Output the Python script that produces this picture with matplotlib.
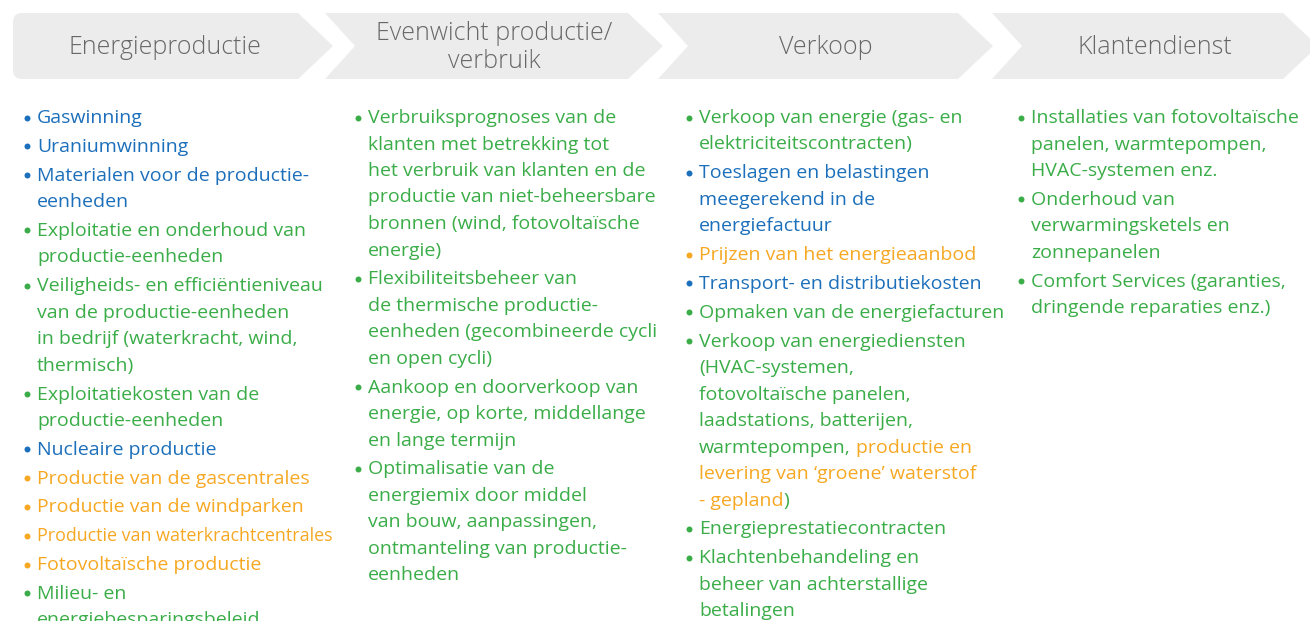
import matplotlib.pyplot as plt
from matplotlib.path import Path
from matplotlib.patches import PathPatch

BLUE = '#1c6fba'
GREEN = '#3aad48'
ORANGE = '#f7a823'
colors = {'b': BLUE, 'g': GREEN, 'o': ORANGE}

headers = ['Energieproductie', 'Evenwicht productie/\nverbruik', 'Verkoop', 'Klantendienst']

# each item: (bullet colour, lines); a line is a string or a list of (text, colour) pieces
col1 = [
    ('b', ['Gaswinning']),
    ('b', ['Uraniumwinning']),
    ('b', ['Materialen voor de productie-', 'eenheden']),
    ('g', ['Exploitatie en onderhoud van', 'productie-eenheden']),
    ('g', ['Veiligheids- en efficiëntieniveau', 'van de productie-eenheden',
           'in bedrijf (waterkracht, wind,', 'thermisch)']),
    ('g', ['Exploitatiekosten van de', 'productie-eenheden']),
    ('b', ['Nucleaire productie']),
    ('o', ['Productie van de gascentrales']),
    ('o', ['Productie van de windparken']),
    ('o', ['Productie van waterkrachtcentrales']),
    ('o', ['Fotovoltaïsche productie']),
    ('g', ['Milieu- en', 'energiebesparingsbeleid']),
]

col2 = [
    ('g', ['Verbruiksprognoses van de', 'klanten met betrekking tot',
           'het verbruik van klanten en de', 'productie van niet-beheersbare',
           'bronnen (wind, fotovoltaïsche', 'energie)']),
    ('g', ['Flexibiliteitsbeheer van', 'de thermische productie-',
           'eenheden (gecombineerde cycli', 'en open cycli)']),
    ('g', ['Aankoop en doorverkoop van', 'energie, op korte, middellange',
           'en lange termijn']),
    ('g', ['Optimalisatie van de', 'energiemix door middel',
           'van bouw, aanpassingen,', 'ontmanteling van productie-', 'eenheden']),
]

col3 = [
    ('g', ['Verkoop van energie (gas- en', 'elektriciteitscontracten)']),
    ('b', ['Toeslagen en belastingen', 'meegerekend in de', 'energiefactuur']),
    ('o', ['Prijzen van het energieaanbod']),
    ('b', ['Transport- en distributiekosten']),
    ('g', ['Opmaken van de energiefacturen']),
    ('g', ['Verkoop van energiediensten', '(HVAC-systemen,', 'fotovoltaïsche panelen,',
           'laadstations, batterijen,',
           [('warmtepompen,', 'g'), ('productie en', 'o')],
           [('levering van ‘groene’ waterstof', 'o')],
           [('- gepland', 'o'), (')', 'g')]]),
    ('g', ['Energieprestatiecontracten']),
    ('g', ['Klachtenbehandeling en', 'beheer van achterstallige', 'betalingen']),
]

col4 = [
    ('g', ['Installaties van fotovoltaïsche', 'panelen, warmtepompen,',
           'HVAC-systemen enz.']),
    ('g', ['Onderhoud van', 'verwarmingsketels en', 'zonnepanelen']),
    ('g', ['Comfort Services (garanties,', 'dringende reparaties enz.)']),
]

# this line is squeezed tighter in the original
narrow_lines = {'Productie van waterkrachtcentrales'}

columns = [col1, col2, col3, col4]

fig = plt.figure(figsize=(13.1, 6.21), dpi=100)
ax = fig.add_axes([0, 0, 1, 1])
ax.set_xlim(0, 1310)
ax.set_ylim(621, 0)
ax.axis('off')

# header chevrons
lefts = [13, 325, 658, 992]
rights = [298, 628, 958, 1283]
top, bot, mid = 13, 79, 46
r = 9
for i, (L, R) in enumerate(zip(lefts, rights)):
    if i == 0:
        verts = [(L + r, top), (R, top), (R + 35, mid), (R, bot), (L + r, bot),
                 (L, bot), (L, bot - r), (L, top + r), (L, top), (L + r, top), (L + r, top)]
        codes = [Path.MOVETO, Path.LINETO, Path.LINETO, Path.LINETO, Path.LINETO,
                 Path.CURVE3, Path.CURVE3, Path.LINETO, Path.CURVE3, Path.CURVE3, Path.CLOSEPOLY]
    else:
        verts = [(L, top), (R, top), (R + 35, mid), (R, bot), (L, bot), (L + 30, mid), (L, top)]
        codes = [Path.MOVETO] + [Path.LINETO] * 5 + [Path.CLOSEPOLY]
    ax.add_patch(PathPatch(Path(verts, codes), facecolor='#ececec', edgecolor='none'))
    cx = 165 if i == 0 else (L + R + 35) / 2
    ax.text(cx, mid + 1.5, headers[i], ha='center', va='center', fontsize=18,
            family='Open Sans', fontweight='light', color='#676767', linespacing=1.2)

# bullet lists
renderer = fig.canvas.get_renderer()
FS = 14.0
text_x = [37, 368, 699, 1031]
line_h = 26.5
gap = 2.3


def seg_width(s):
    t = ax.text(0, 0, s, fontsize=FS, family='Open Sans')
    w = t.get_window_extent(renderer).width
    t.remove()
    return w


space_w = seg_width('a a') - seg_width('aa')

for x, items in zip(text_x, columns):
    y = 123
    for bc, lines in items:
        ax.plot(x - 10.5, y - 5.5, 'o', ms=4.3, color=colors[bc], mec='none')
        for ln in lines:
            if isinstance(ln, str):
                fs = 12.9 if ln in narrow_lines else FS
                ax.text(x, y, ln, fontsize=fs, family='Open Sans', color=colors[bc],
                        va='baseline', ha='left')
            else:
                cx = x
                for k, (s, c) in enumerate(ln):
                    t = ax.text(cx, y, s, fontsize=FS, family='Open Sans', color=colors[c],
                                va='baseline', ha='left')
                    cx += t.get_window_extent(renderer).width
                    if k < len(ln) - 1 and s.endswith(','):
                        cx += space_w
            y += line_h
        y += gap

fig.savefig('out.png', dpi=100, facecolor='white')
